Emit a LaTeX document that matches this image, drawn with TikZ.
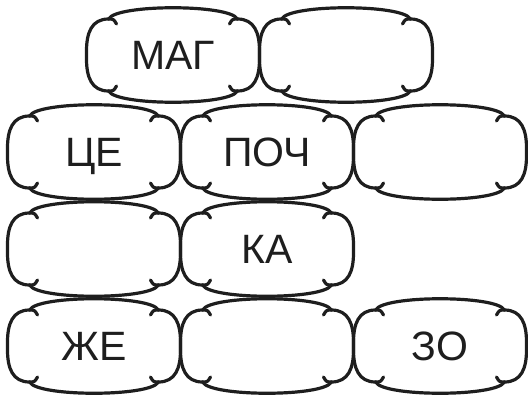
\documentclass[tikz,border=0pt]{standalone}
\usepackage{fontspec}
\setmainfont{Liberation Sans}
\usetikzlibrary{positioning}
\definecolor{inkgray}{HTML}{1E1E1E}
\tikzset{
  cell/.style={
    rectangle, minimum width=173pt, minimum height=96pt,
    inner sep=0pt, outer sep=0pt, text=inkgray,
    font=\fontsize{41}{41}\selectfont, text height=29pt, text depth=0pt
  },
  rim/.style={draw=inkgray, line width=3.2pt, line join=round, line cap=round},
}

\begin{document}
\begin{tikzpicture}[x=1pt, y=-1pt]
\useasboundingbox (0,0) rectangle (528,399);

% Word cells, row by row
\node[cell] (mag) at (173,55) {МАГ};
\node[cell, right=0pt of mag] (topright) {};
\node[cell] (ce) at (94,152) {ЦЕ};
\node[cell, right=0pt of ce] (poch) {ПОЧ};
\node[cell, right=0pt of poch] (midright) {};
\node[cell, below=1pt of ce] (blank) {};
\node[cell, right=0pt of blank] (ka) {КА};
\node[cell, below=1pt of blank] (zhe) {ЖЕ};
\node[cell, right=0pt of zhe] (botmid) {};
\node[cell, right=0pt of botmid] (zo) {ЗО};

% Pillow outlines with curled corners
\foreach \n in {mag,topright,ce,poch,midright,blank,ka,zhe,botmid,zo} {
  \draw[rim, shift={(\n.north west)}]
    (22,12) .. controls (30,-3) and (143,-3) .. (151,12)
    .. controls (168,12) and (173,26) .. (173,44) -- (173,52)
    .. controls (173,70) and (168,84) .. (151,84)
    .. controls (143,99) and (30,99) .. (22,84)
    .. controls (5,84) and (0,70) .. (0,52) -- (0,44)
    .. controls (0,26) and (5,12) .. (22,12) -- cycle;
  \draw[rim, shift={(\n.north west)}]
    (22,12) .. controls (27,12) .. (30,17)
    (151,12) .. controls (146,12) .. (143,17)
    (151,84) .. controls (146,84) .. (143,79)
    (22,84) .. controls (27,84) .. (30,79);
}
\end{tikzpicture}
\end{document}
